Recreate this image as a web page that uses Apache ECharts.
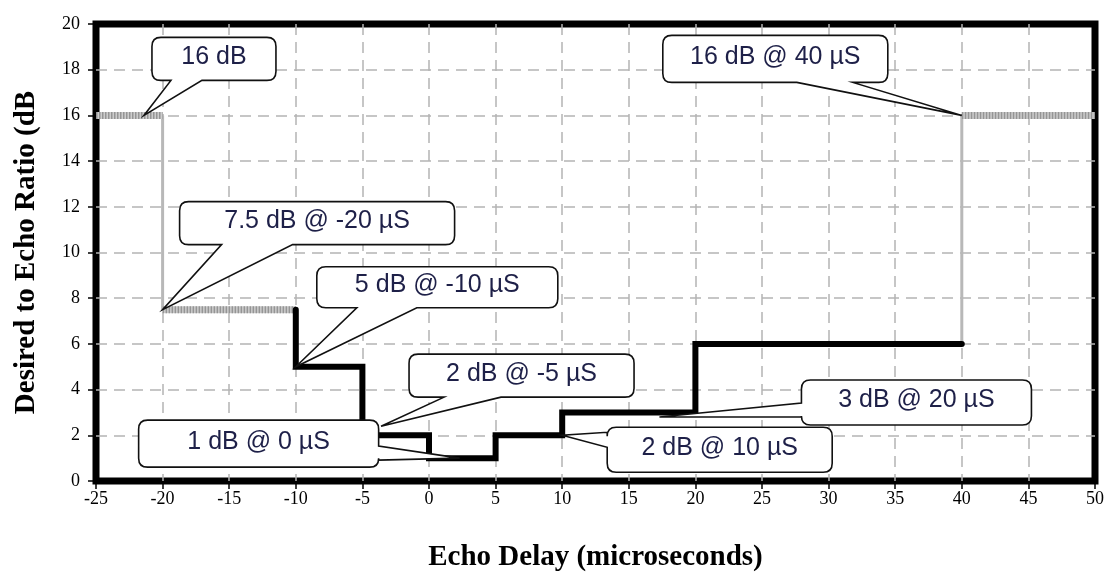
<!DOCTYPE html>
<html>
<head>
<meta charset="utf-8">
<script src="https://cdn.jsdelivr.net/npm/echarts@6/dist/echarts.min.js"></script>
<style>
html,body{margin:0;padding:0;background:#fff;}
#chart{width:1107px;height:573px;}
</style>
</head>
<body>
<div id="chart"></div>
<script>
// ---- data ----
// breakpoints of the D/U limit curve (echo delay, µs) and the level on each interval (dB)
const breakX = [-25, -20, -10, -5, 0, 5, 10, 20, 40, 50];
const levels = [16, 7.5, 5, 2, 1, 2, 3, 6, 16];
// callout anchors and texts
const calloutX = [-21.4, -20, -10, -3.6, 2.3, 10, 17.3, 40];
const calloutY = [16, 7.5, 5, 2.4, 1, 2, 2.8, 16];
const calloutText = ['16 dB', '7.5 dB @ -20 µS', '5 dB @ -10 µS', '2 dB @ -5 µS', '1 dB @ 0 µS', '2 dB @ 10 µS', '3 dB @ 20 µS', '16 dB @ 40 µS'];
const xRange = [-25, 50, 5];
const yRange = [0, 20, 2];
const xTitle = 'Echo Delay (microseconds)';
const yTitle = 'Desired to Echo Ratio (dB';

// ---- layout of callouts (pixel offsets from the anchor) ----
const calloutLayout = [
  {dx: 8,    dy: -78,  w: 124, h: 43, side: 'bottom', b1: 19, b2: 50},
  {dx: 17,   dy: -108, w: 275, h: 43, side: 'bottom', b1: 42, b2: 113},
  {dx: 21,   dy: -100, w: 241, h: 41, side: 'bottom', b1: 40, b2: 100},
  {dx: 28,   dy: -72,  w: 225, h: 43, side: 'bottom', b1: 35, b2: 92},
  {dx: -321, dy: -38,  w: 240, h: 47, side: 'right',  b1: 26, b2: 40},
  {dx: 45,   dy: -8,   w: 225, h: 45, side: 'left',   b1: 5,  b2: 20},
  {dx: 142,  dy: -37,  w: 230, h: 45, side: 'left',   b1: 23, b2: 37},
  {dx: -299, dy: -80,  w: 225, h: 47, side: 'bottom', b1: 134, b2: 190}
];

// ---- build segments from the data ----
const hatched = [];   // gray hatched horizontal parts
const grayVert = [];  // gray solid vertical parts
const black = [];     // black path
[0, 1, 8].forEach(i => {
  hatched.push([breakX[i], levels[i]], [breakX[i + 1], levels[i]], null);
});
grayVert.push([breakX[1], levels[0]], [breakX[1], levels[1]], null);
grayVert.push([breakX[8], levels[7]], [breakX[8], levels[8]], null);
for (let i = 2; i <= 7; i++) {
  black.push([breakX[i], levels[i - 1]]);
  black.push([breakX[i], levels[i]]);
  black.push([breakX[i + 1], levels[i]]);
}

const calloutData = calloutX.map((x, i) => [x, calloutY[i]]);

function calloutPath(p, L) {
  const x0 = p[0] + L.dx, y0 = p[1] + L.dy, x1 = x0 + L.w, y1 = y0 + L.h, r = 9;
  const t = p;
  let d = `M${x0 + r} ${y0} L${x1 - r} ${y0} Q${x1} ${y0} ${x1} ${y0 + r} `;
  if (L.side === 'right') d += `L${x1} ${y0 + L.b1} L${t[0]} ${t[1]} L${x1} ${y0 + L.b2} `;
  d += `L${x1} ${y1 - r} Q${x1} ${y1} ${x1 - r} ${y1} `;
  if (L.side === 'bottom') d += `L${x0 + L.b2} ${y1} L${t[0]} ${t[1]} L${x0 + L.b1} ${y1} `;
  d += `L${x0 + r} ${y1} Q${x0} ${y1} ${x0} ${y1 - r} `;
  if (L.side === 'left') d += `L${x0} ${y0 + L.b2} L${t[0]} ${t[1]} L${x0} ${y0 + L.b1} `;
  d += `L${x0} ${y0 + r} Q${x0} ${y0} ${x0 + r} ${y0} Z`;
  return {d, cx: (x0 + x1) / 2, cy: (y0 + y1) / 2};
}

const chart = echarts.init(document.getElementById('chart'), null, {renderer: 'canvas'});
const serif = 'Liberation Serif';
const split = {show: true, showMinLine: false, showMaxLine: false, lineStyle: {color: '#b4b4b4', width: 1.5, type: [11, 7]}};
chart.setOption({
  animation: false,
  backgroundColor: '#fff',
  grid: {left: 96, right: 12, top: 24, bottom: 92, show: true, borderColor: '#000', borderWidth: 7,
         backgroundColor: 'transparent', containLabel: false, outerBoundsMode: 'none'},
  xAxis: {
    type: 'value', min: xRange[0], max: xRange[1], interval: xRange[2],
    name: xTitle, nameLocation: 'middle', nameGap: 62,
    nameTextStyle: {fontFamily: serif, fontWeight: 'bold', fontSize: 29, color: '#000'},
    axisLine: {show: false, onZero: false},
    axisTick: {show: true, length: 8, lineStyle: {color: '#000', width: 1.5}},
    axisLabel: {fontFamily: serif, fontSize: 18, color: '#000', margin: 9},
    splitLine: split
  },
  yAxis: {
    type: 'value', min: yRange[0], max: yRange[1], interval: yRange[2],
    name: yTitle, nameLocation: 'middle', nameGap: 55,
    nameTextStyle: {fontFamily: serif, fontWeight: 'bold', fontSize: 29, color: '#000'},
    axisLine: {show: false, onZero: false},
    axisTick: {show: true, length: 8, lineStyle: {color: '#000', width: 1.5}},
    axisLabel: {fontFamily: serif, fontSize: 18, color: '#000', margin: 16},
    splitLine: split
  },
  series: [
    {type: 'line', data: grayVert, showSymbol: false, connectNulls: false, z: 2,
     lineStyle: {color: '#b8b8b8', width: 3}},
    {type: 'line', data: hatched, showSymbol: false, connectNulls: false, z: 2,
     lineStyle: {color: '#cdcdcd', width: 7, cap: 'butt'}},
    {type: 'line', data: hatched, showSymbol: false, connectNulls: false, z: 3,
     lineStyle: {color: '#959595', width: 7, type: [1.5, 1.5], cap: 'butt'}},
    {type: 'line', data: black, showSymbol: false, z: 4,
     lineStyle: {color: '#000', width: 6, cap: 'round', join: 'miter'}},
    {type: 'custom', data: calloutData, z: 10, clip: false,
     renderItem: function (params, api) {
       const p = api.coord([api.value(0), api.value(1)]);
       const L = calloutLayout[params.dataIndex];
       const c = calloutPath(p, L);
       return {type: 'group', children: [
         {type: 'path', shape: {pathData: c.d}, style: {fill: '#fff', stroke: '#111', lineWidth: 1.6}},
         {type: 'text', x: c.cx, y: c.cy - 2, style: {text: calloutText[params.dataIndex], fill: '#1e2048',
           font: '25px "Liberation Sans"', align: 'center', verticalAlign: 'middle'}}
       ]};
     }}
  ]
});
</script>
</body>
</html>
